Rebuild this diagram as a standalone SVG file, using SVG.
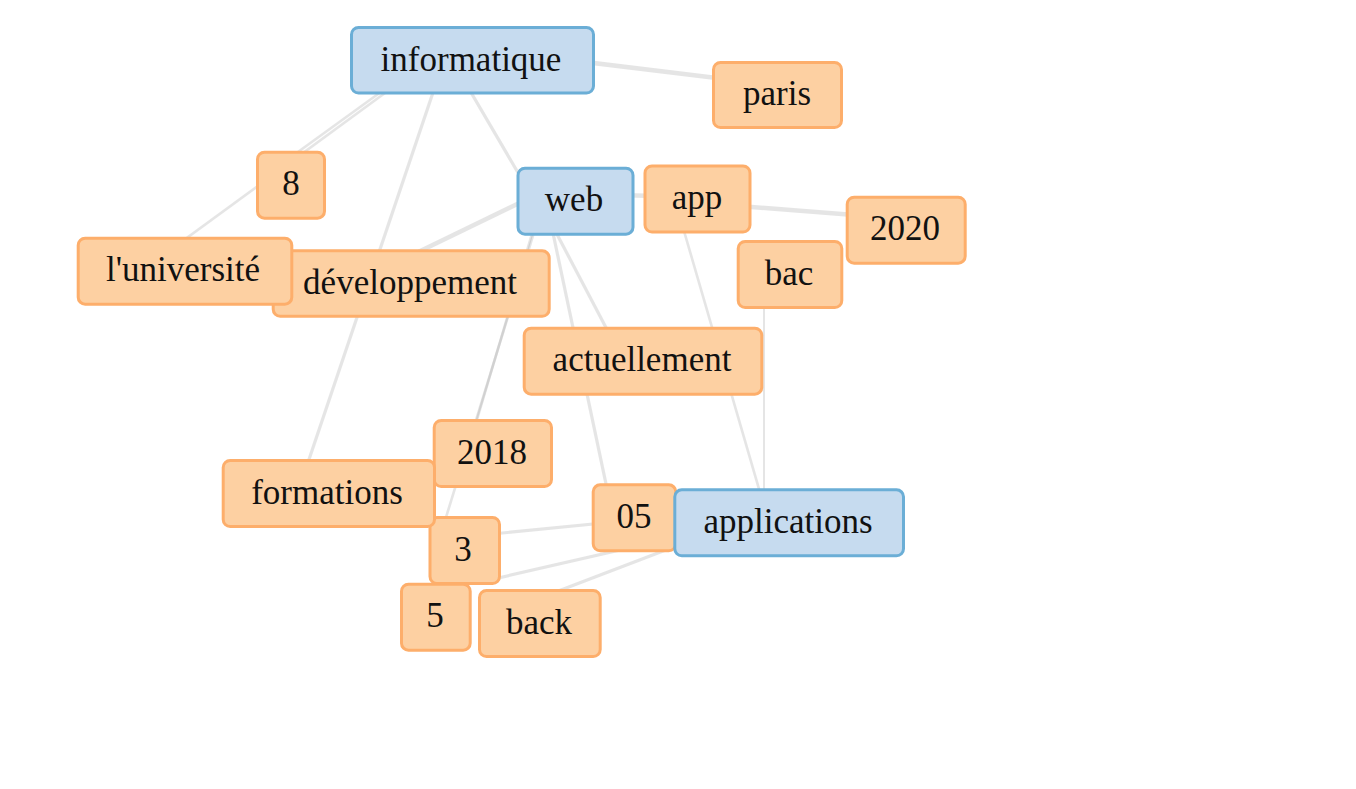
<svg xmlns="http://www.w3.org/2000/svg" width="1356" height="789" viewBox="0 0 1356 789">
<style>
.edge{stroke:#999;stroke-opacity:0.25;fill:none;stroke-linecap:butt}
.w1{stroke-width:2}
.w2{stroke-width:2.6}
.w3{stroke-width:3.2}
.w4{stroke-width:4.5}
.node rect{stroke-width:3}
.orange rect{fill:#fdd0a2;stroke:#fdae6b}
.blue rect{fill:#c6dbef;stroke:#6baed6}
.node text{font-family:"Liberation Serif","Times New Roman",serif;font-size:35px;fill:#111;text-anchor:middle}
</style>
<rect width="1356" height="789" fill="#ffffff"/>
<g id="edges">
<line class="edge w4" x1="470" y1="48" x2="775" y2="85"/>
<line class="edge w2" x1="425" y1="60" x2="280" y2="165"/>
<line class="edge w2" x1="430" y1="60" x2="143" y2="270"/>
<line class="edge w3" x1="444" y1="60" x2="298" y2="492"/>
<line class="edge w3" x1="452" y1="60" x2="534" y2="200"/>
<line class="edge w4" x1="575" y1="176" x2="410" y2="256"/>
<line class="edge w4" x1="575" y1="194" x2="697" y2="197"/>
<line class="edge w2" x1="542" y1="200" x2="468" y2="450"/>
<line class="edge w2" x1="544" y1="200" x2="439" y2="540"/>
<line class="edge w3" x1="539" y1="200" x2="623" y2="360"/>
<line class="edge w3" x1="546" y1="200" x2="613" y2="517"/>
<line class="edge w4" x1="700" y1="203" x2="905" y2="219"/>
<line class="edge w2" x1="675" y1="200" x2="768" y2="520"/>
<line class="edge w1" x1="764" y1="275" x2="764" y2="520"/>
<line class="edge w3" x1="462" y1="537" x2="634" y2="520"/>
<line class="edge w3" x1="485" y1="581" x2="760" y2="518"/>
<line class="edge w3" x1="540" y1="598" x2="760" y2="514"/>
</g>
<g id="node-paris" class="node orange"><rect x="713.5" y="62.5" width="128" height="65" rx="7"/><text x="777" y="105">paris</text></g>
<g id="node-informatique" class="node blue"><rect x="351.5" y="27.5" width="242" height="65.5" rx="7"/><text x="471" y="70.5">informatique</text></g>
<g id="node-8" class="node orange"><rect x="257.5" y="152.2" width="67" height="66" rx="7"/><text x="291" y="195">8</text></g>
<g id="node-web" class="node blue"><rect x="518" y="168.2" width="115" height="66" rx="7"/><text x="574" y="211">web</text></g>
<g id="node-app" class="node orange"><rect x="645" y="166" width="105" height="66" rx="7"/><text x="697" y="209">app</text></g>
<g id="node-2020" class="node orange"><rect x="847.2" y="197.2" width="118" height="66" rx="7"/><text x="905" y="240">2020</text></g>
<g id="node-bac" class="node orange"><rect x="738.2" y="241.5" width="103.6" height="66" rx="7"/><text x="789" y="284.5">bac</text></g>
<g id="node-developpement" class="node orange"><rect x="273.2" y="250.8" width="276" height="65.5" rx="7"/><text x="410" y="293.5">développement</text></g>
<g id="node-luniversite" class="node orange"><rect x="78.2" y="238.2" width="213.6" height="66" rx="7"/><text x="183" y="281">l'université</text></g>
<g id="node-actuellement" class="node orange"><rect x="524.2" y="328.2" width="237.6" height="66" rx="7"/><text x="642" y="371">actuellement</text></g>
<g id="node-2018" class="node orange"><rect x="434.2" y="420.5" width="117.3" height="66" rx="7"/><text x="492" y="463.5">2018</text></g>
<g id="node-3" class="node orange"><rect x="430" y="517.5" width="69.5" height="66" rx="7"/><text x="463" y="560.5">3</text></g>
<g id="node-formations" class="node orange"><rect x="223.2" y="460.5" width="211.3" height="66" rx="7"/><text x="327" y="503.5">formations</text></g>
<g id="node-5" class="node orange"><rect x="401.5" y="584.2" width="68.7" height="66" rx="7"/><text x="435" y="627">5</text></g>
<g id="node-back" class="node orange"><rect x="479.5" y="590.5" width="120.7" height="66" rx="7"/><text x="539" y="633.5">back</text></g>
<g id="node-05" class="node orange"><rect x="593.2" y="484.8" width="82.6" height="66" rx="7"/><text x="634" y="527.5">05</text></g>
<g id="node-applications" class="node blue"><rect x="674.8" y="489.8" width="228.7" height="66" rx="7"/><text x="788" y="532.5">applications</text></g>
</svg>
